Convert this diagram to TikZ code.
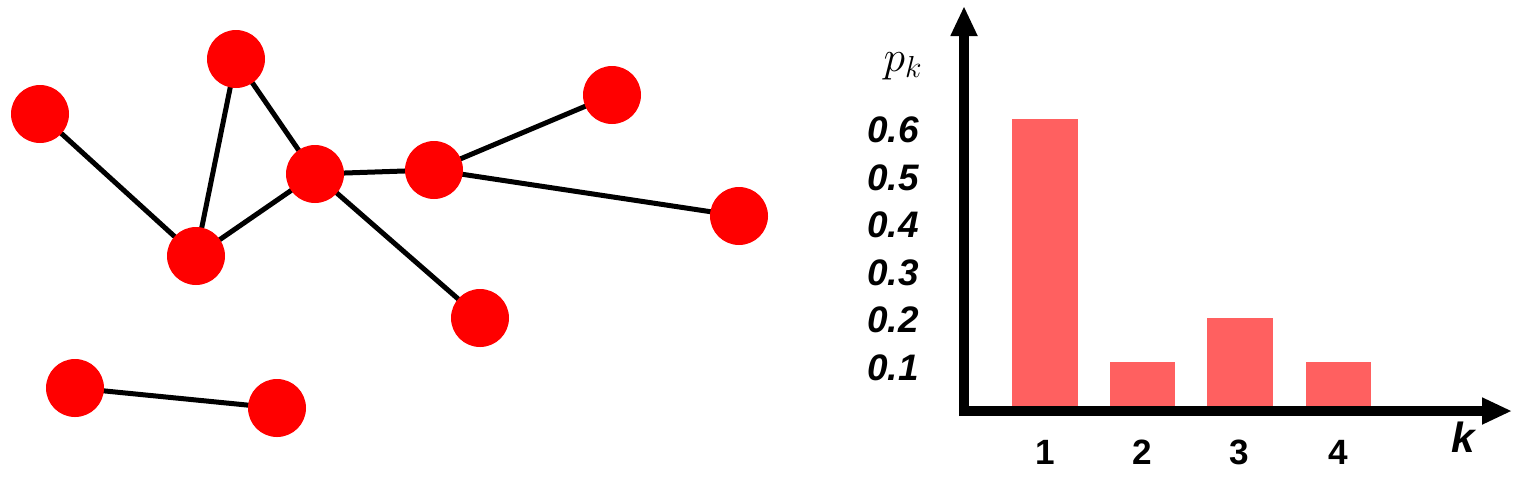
\documentclass[tikz,border=0pt]{standalone}
\usepackage{fontspec}
\newfontfamily\labfont{Liberation Sans}
\usetikzlibrary{arrows.meta,backgrounds}
\definecolor{nodered}{RGB}{255,0,0}
\definecolor{barred}{RGB}{255,96,96}
\begin{document}
\begin{tikzpicture}[x=0.02cm,y=-0.02cm,
  vert/.style={circle,fill=nodered,minimum size=58*0.02cm,inner sep=0pt},
  edge/.style={line width=0.1cm,black},
  axis/.style={line width=0.2cm,-{Triangle[length=0.6cm,width=0.5cm]}},
  bar/.style={fill=barred,draw=none},
  tick/.style={font=\labfont\bfseries\itshape\fontsize{21}{21}\selectfont,anchor=center},
  xlab/.style={font=\labfont\bfseries\fontsize{20}{20}\selectfont,anchor=center}]
\useasboundingbox (0,0) rectangle (1527,478);
% graph
\node[vert] (a) at (40,114) {};
\node[vert] (b) at (236,59) {};
\node[vert] (c) at (315,174) {};
\node[vert] (d) at (196,256) {};
\node[vert] (e) at (434,170) {};
\node[vert] (f) at (612,95) {};
\node[vert] (g) at (739,216) {};
\node[vert] (h) at (480,318) {};
\node[vert] (i) at (75,388) {};
\node[vert] (j) at (277,408) {};
\begin{scope}[on background layer]
\draw[edge] (a.center) -- (d.center);
\draw[edge] (d.center) -- (b.center);
\draw[edge] (b.center) -- (c.center);
\draw[edge] (d.center) -- (c.center);
\draw[edge] (c.center) -- (e.center);
\draw[edge] (e.center) -- (f.center);
\draw[edge] (e.center) -- (g.center);
\draw[edge] (c.center) -- (h.center);
\draw[edge] (i.center) -- (j.center);
\end{scope}
% chart
\coordinate (o) at (964,411);
\coordinate (ytop) at (964,6);
\coordinate (xend) at (1512,411);
\fill[bar] (1012,119) rectangle (1078,406);
\fill[bar] (1110,362) rectangle (1175,406);
\fill[bar] (1207,318) rectangle (1273,406);
\fill[bar] (1306,362) rectangle (1371,406);
\draw[axis] ([xshift=-0.1cm]o) -- (xend);
\draw[axis] ([yshift=-0.1cm]o) -- (ytop);
\node (pk) at (903,66) {\fontsize{25}{25}\selectfont$p_k$};
\node[tick] (t6) at (893,130) {0.6};
\node[tick] (t5) at (893,178) {0.5};
\node[tick] (t4) at (893,225) {0.4};
\node[tick] (t3) at (893,273) {0.3};
\node[tick] (t2) at (893,320) {0.2};
\node[tick] (t1) at (893,368) {0.1};
\node[xlab] (l1) at (1045,452) {1};
\node[xlab] (l2) at (1142,452) {2};
\node[xlab] (l3) at (1239,452) {3};
\node[xlab] (l4) at (1338,452) {4};
\node[tick,font=\labfont\bfseries\itshape\fontsize{24}{24}\selectfont] (k) at (1463,437) {k};
\end{tikzpicture}
\end{document}
